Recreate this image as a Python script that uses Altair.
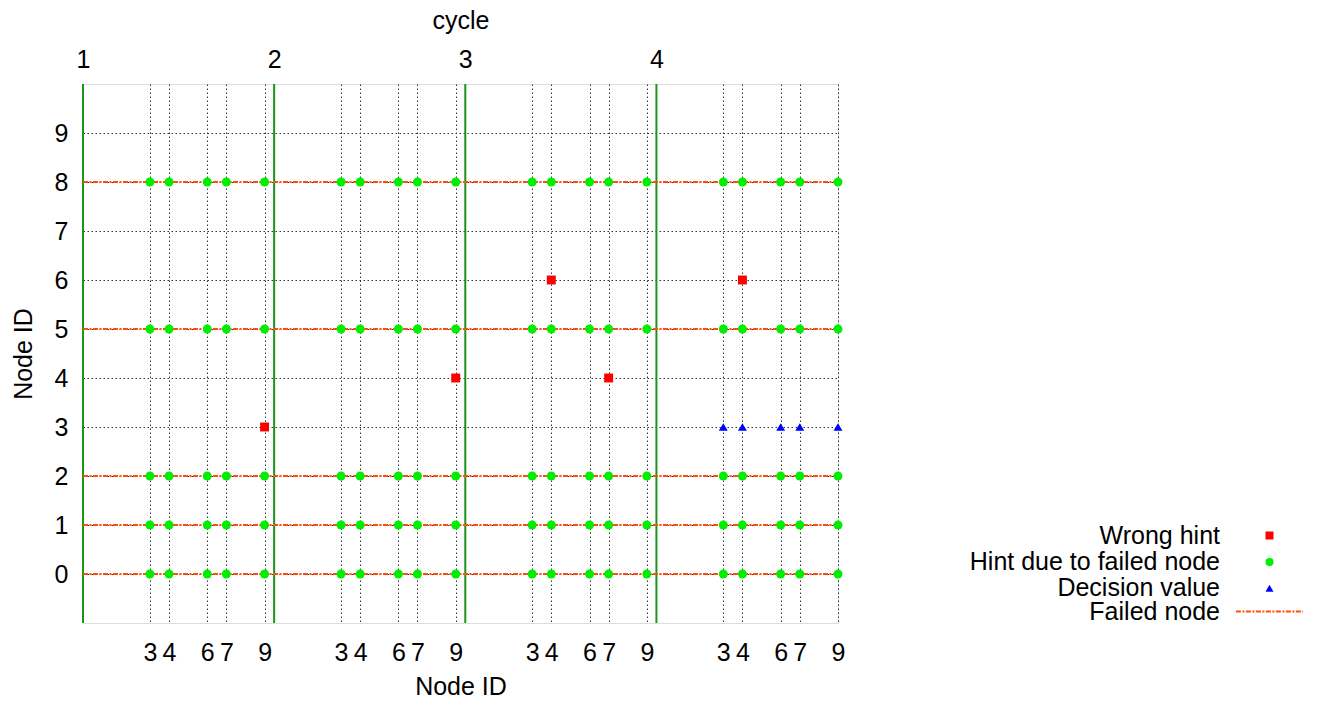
import altair as alt
import pandas as pd

# ---- values ----
cycles = [1, 2, 3, 4]
hint_nodes = [3, 4, 6, 7, 9]          # node IDs shown as ticks in every cycle
failed_nodes = [0, 1, 2, 5, 8]        # node IDs with a failed-node line
y_ticks = [0, 1, 2, 3, 4, 5, 6, 7, 8, 9]

wrong_cycle = [1, 2, 3, 3, 4]
wrong_node = [9, 9, 4, 7, 4]
wrong_id = [3, 4, 6, 4, 6]

decision_cycle = [4, 4, 4, 4, 4]
decision_node = [3, 4, 6, 7, 9]
decision_id = [3, 3, 3, 3, 3]

point_series = ["Wrong hint", "Hint due to failed node", "Decision value"]
point_colors = ["#ff0000", "#00ee00", "#0000ff"]
point_shapes = ["square", "circle", "triangle-up"]
line_series = ["Failed node"]
line_colors = ["#ff4d0d"]

FONT = "Liberation Sans"
FS = 25

# ---- tables ----
rows = []
for c, k, i in zip(wrong_cycle, wrong_node, wrong_id):
    rows.append({"cycle": c, "node": k, "id": i, "series": "Wrong hint"})
for c in cycles:
    for i in failed_nodes:
        for k in hint_nodes:
            rows.append({"cycle": c, "node": k, "id": i, "series": "Hint due to failed node"})
for c, k, i in zip(decision_cycle, decision_node, decision_id):
    rows.append({"cycle": c, "node": k, "id": i, "series": "Decision value"})
points_df = pd.DataFrame(rows)
failed_df = pd.DataFrame({"id": failed_nodes, "series": ["Failed node"] * len(failed_nodes)})
cycle_df = pd.DataFrame({"cycle": cycles})

x_expr = "(datum.cycle - 1) * 10 + datum.node + 0.5"
bottom_ticks = [(c - 1) * 10 + k + 0.5 for c in cycles for k in hint_nodes]
top_ticks = [(c - 1) * 10 for c in cycles]

xscale = alt.Scale(domain=[0, 39.5], nice=False, zero=False)
yscale = alt.Scale(domain=[-1, 10], nice=False, zero=False)

common_axis = dict(
    labelFont=FONT, labelFontSize=FS, labelColor="black",
    titleFont=FONT, titleFontSize=FS, titleFontWeight="normal", titleColor="black",
    ticks=False, tickSize=0, domain=False, labelFlush=False, labelOverlap=False,
)

y_axis = alt.Axis(
    values=y_ticks, title="Node ID", labelPadding=15, titlePadding=18,
    grid=True, gridColor="#333333", gridDash=[1.5, 2.5], gridWidth=1, **common_axis,
)
top_axis = alt.Axis(
    orient="top", values=top_ticks, title="cycle",
    labelExpr="format(datum.value / 10 + 1, 'd')",
    labelPadding=12, titlePadding=14, grid=False, **common_axis,
)
bottom_axis = alt.Axis(
    orient="bottom", values=bottom_ticks, title="Node ID",
    labelExpr="format((datum.value - 0.5) % 10, 'd')",
    labelPadding=17, titlePadding=9,
    grid=True, gridColor="#333333", gridDash=[1.5, 2.5], gridWidth=1, **common_axis,
)

legend_common = dict(
    title=None, orient="none", labelFont=FONT, labelFontSize=FS, labelColor="black",
    labelAlign="right", labelOffset={"expr": "-62"}, symbolSize=64, padding=0,
    rowPadding=0.4, labelLimit=600,
)
points_legend = alt.Legend(legendX=1174, legendY=439, symbolStrokeWidth=0, **legend_common)
line_legend = alt.Legend(
    legendX=1174, legendY=515, symbolType="M-8.4,0H8.4",
    symbolDash=[5, 1.5, 2, 1.5], symbolStrokeWidth=1.8, **legend_common,
)

cycle_lines = alt.Chart(cycle_df).transform_calculate(
    x="(datum.cycle - 1) * 10"
).mark_rule(color="#1a941a", strokeWidth=2).encode(
    x=alt.X("x:Q", scale=xscale, axis=top_axis)
)

failed_lines = alt.Chart(failed_df).mark_rule(
    strokeWidth=1.8, strokeDash=[5, 1.5, 2, 1.5]
).encode(
    y=alt.Y("id:Q", scale=yscale, axis=y_axis),
    stroke=alt.Stroke("series:N", scale=alt.Scale(domain=line_series, range=line_colors),
                      legend=line_legend),
)

points = alt.Chart(points_df).transform_calculate(x=x_expr).mark_point(
    filled=True, size=80, opacity=1
).encode(
    x=alt.X("x:Q", scale=xscale, axis=bottom_axis),
    y=alt.Y("id:Q", scale=yscale),
    color=alt.Color("series:N", scale=alt.Scale(domain=point_series, range=point_colors),
                    legend=points_legend),
    shape=alt.Shape("series:N", scale=alt.Scale(domain=point_series, range=point_shapes),
                    legend=points_legend),
)

chart = alt.layer(cycle_lines, failed_lines, points).resolve_axis(
    x="independent"
).properties(
    width=755, height=539,
    autosize=alt.AutoSizeParams(type="none"),
    padding={"left": 75, "top": 76, "right": 468, "bottom": 82},
).configure_view(
    stroke="black", strokeWidth=1.5
).configure(background="white")

chart.save("out.html", embed_options={"renderer": "svg", "actions": False})
